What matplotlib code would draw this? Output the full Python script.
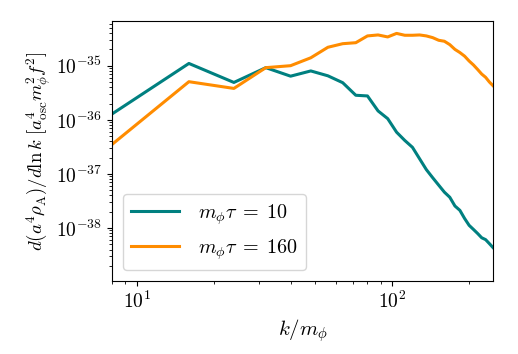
import numpy as np
import matplotlib
matplotlib.use("Agg")
import matplotlib.pyplot as plt

plt.rcParams['mathtext.fontset'] = 'cm'
plt.rcParams['font.family'] = 'serif'
plt.rcParams['font.serif'] = ['cmr10', 'DejaVu Serif']
plt.rcParams['axes.formatter.use_mathtext'] = True

k = [8 * n for n in range(1, 32)]

tau10 = [1.28e-36, 1.1e-35, 4.9e-36, 9.2e-36, 6.4e-36, 8.0e-36, 6.5e-36, 4.85e-36,
         2.84e-36, 2.76e-36, 1.46e-36, 1.05e-36, 5.9e-37, 4.15e-37, 3.1e-37, 1.9e-37,
         1.2e-37, 8.5e-38, 6.2e-38, 4.6e-38, 3.7e-38, 2.55e-38, 2.12e-38, 1.5e-38,
         1.12e-38, 9.4e-39, 7.9e-39, 6.6e-39, 6.1e-39, 5.15e-39, 4.35e-39]

tau160 = [3.5e-37, 5.06e-36, 3.8e-36, 9.2e-36, 1.0e-35, 1.4e-35, 2.19e-35, 2.55e-35,
          2.66e-35, 3.55e-35, 3.7e-35, 3.4e-35, 3.95e-35, 3.65e-35, 3.65e-35, 3.7e-35,
          3.55e-35, 3.3e-35, 2.95e-35, 2.83e-35, 2.45e-35, 2.0e-35, 1.75e-35, 1.5e-35,
          1.22e-35, 1.03e-35, 8.5e-36, 7.0e-36, 6.1e-36, 5.0e-36, 4.27e-36]

labels = [r'$m_\phi\tau\;=\;10$', r'$m_\phi\tau\;=\;160$']

fig = plt.figure(figsize=(5.18, 3.54), dpi=100)
ax = fig.add_axes([112/518, 1 - 280.7/354, (493-112)/518, (280.7-21)/354])
ax.loglog(k, tau10, color='#008080', lw=2.2, label=labels[0])
ax.loglog(k, tau160, color='darkorange', lw=2.2, label=labels[1])
ax.set_xlim(8, 248)
ax.set_ylim(10**-38.974, 10**-34.174)
ax.set_xlabel(r'$k/m_\phi$', fontsize=15)
ax.set_ylabel(r'$d(a^4\rho_{\rm A})/d\ln k\ [a_{\rm osc}^4 m_\phi^2 f^2]$', fontsize=13.5, labelpad=2)
ax.tick_params(labelsize=14)
ax.legend(loc='lower left', fontsize=14.5, handlelength=2.4, handletextpad=0.9,
          borderaxespad=0.55)
fig.savefig('out.png', dpi=100)
